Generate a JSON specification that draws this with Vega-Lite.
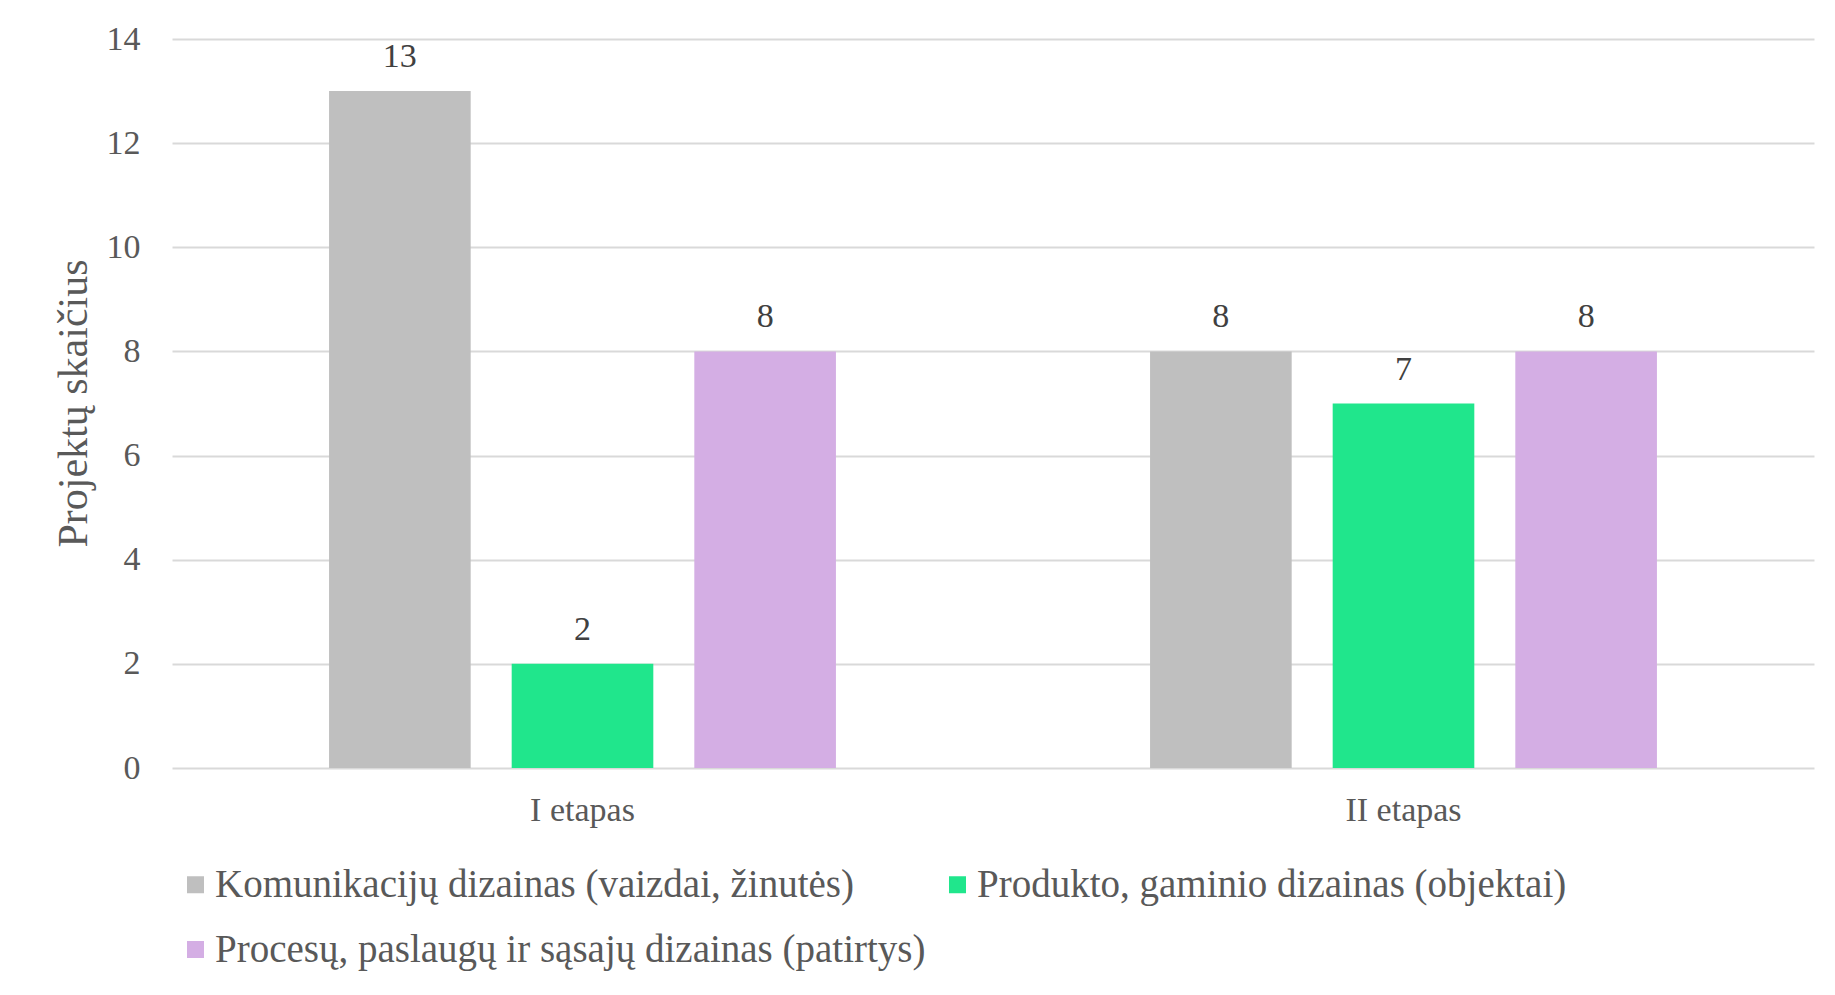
{
  "$schema": "https://vega.github.io/schema/vega-lite/v6.json",
  "width": 1630,
  "height": 729,
  "autosize": {"type": "none"},
  "padding": {"left": 172, "top": 39, "right": 33, "bottom": 227},
  "background": "white",
  "data": {
    "values": [
      {"etapas": "I etapas", "kategorija": "Komunikacijų dizainas (vaizdai, žinutės)", "projektai": 13},
      {"etapas": "I etapas", "kategorija": "Produkto, gaminio dizainas (objektai)", "projektai": 2},
      {"etapas": "I etapas", "kategorija": "Procesų, paslaugų ir sąsajų dizainas (patirtys)", "projektai": 8},
      {"etapas": "II etapas", "kategorija": "Komunikacijų dizainas (vaizdai, žinutės)", "projektai": 8},
      {"etapas": "II etapas", "kategorija": "Produkto, gaminio dizainas (objektai)", "projektai": 7},
      {"etapas": "II etapas", "kategorija": "Procesų, paslaugų ir sąsajų dizainas (patirtys)", "projektai": 8}
    ]
  },
  "encoding": {
    "x": {
      "field": "etapas", "type": "nominal", "sort": ["I etapas", "II etapas"],
      "scale": {"paddingInner": 0, "paddingOuter": 0, "range": [0, 1642]},
      "axis": {"title": null, "labelAngle": 0, "ticks": false, "labelPadding": 25, "domain": false, "grid": false}
    },
    "xOffset": {
      "field": "kategorija", "type": "nominal",
      "sort": ["Komunikacijų dizainas (vaizdai, žinutės)", "Produkto, gaminio dizainas (objektai)", "Procesų, paslaugų ir sąsajų dizainas (patirtys)"],
      "scale": {"paddingInner": 0.2245, "paddingOuter": 0.86}
    },
    "y": {
      "field": "projektai", "type": "quantitative",
      "scale": {"domain": [0, 14], "nice": false},
      "axis": {"title": "Projektų skaičius", "values": [0, 2, 4, 6, 8, 10, 12, 14], "ticks": false, "domain": false, "labelPadding": 32, "grid": true, "gridColor": "#d9d9d9", "gridWidth": 2, "titleX": -99, "titleY": 364, "titleAngle": -90, "titleBaseline": "middle", "titleAlign": "center", "titleFontSize": 42}
    }
  },
  "layer": [
    {
      "mark": {"type": "bar"},
      "encoding": {
        "color": {
          "field": "kategorija", "type": "nominal",
          "sort": ["Komunikacijų dizainas (vaizdai, žinutės)", "Produkto, gaminio dizainas (objektai)", "Procesų, paslaugų ir sąsajų dizainas (patirtys)"],
          "scale": {"domain": ["Komunikacijų dizainas (vaizdai, žinutės)", "Produkto, gaminio dizainas (objektai)", "Procesų, paslaugų ir sąsajų dizainas (patirtys)"], "range": ["#bfbfbf", "#20e68c", "#d4aee4"]},
          "legend": {"title": null, "orient": "none", "direction": "horizontal", "legendX": 4, "legendY": 826, "columns": 2, "symbolType": "square", "symbolSize": 289, "symbolStrokeWidth": 0, "labelFontSize": 39, "labelOffset": 0, "rowPadding": 25, "columnPadding": 12, "labelLimit": 0, "padding": 0}
        }
      }
    },
    {
      "mark": {"type": "text", "baseline": "alphabetic", "dy": -24, "fontSize": 34, "color": "#404040", "font": "Liberation Serif"},
      "encoding": {"text": {"field": "projektai", "type": "quantitative"}}
    }
  ],
  "config": {
    "view": {"stroke": null},
    "font": "Liberation Serif",
    "axis": {"labelFont": "Liberation Serif", "labelFontSize": 34, "labelColor": "#595959", "titleFont": "Liberation Serif", "titleColor": "#595959", "titleFontWeight": "normal"},
    "legend": {"labelFont": "Liberation Serif", "labelColor": "#595959"}
  }
}
